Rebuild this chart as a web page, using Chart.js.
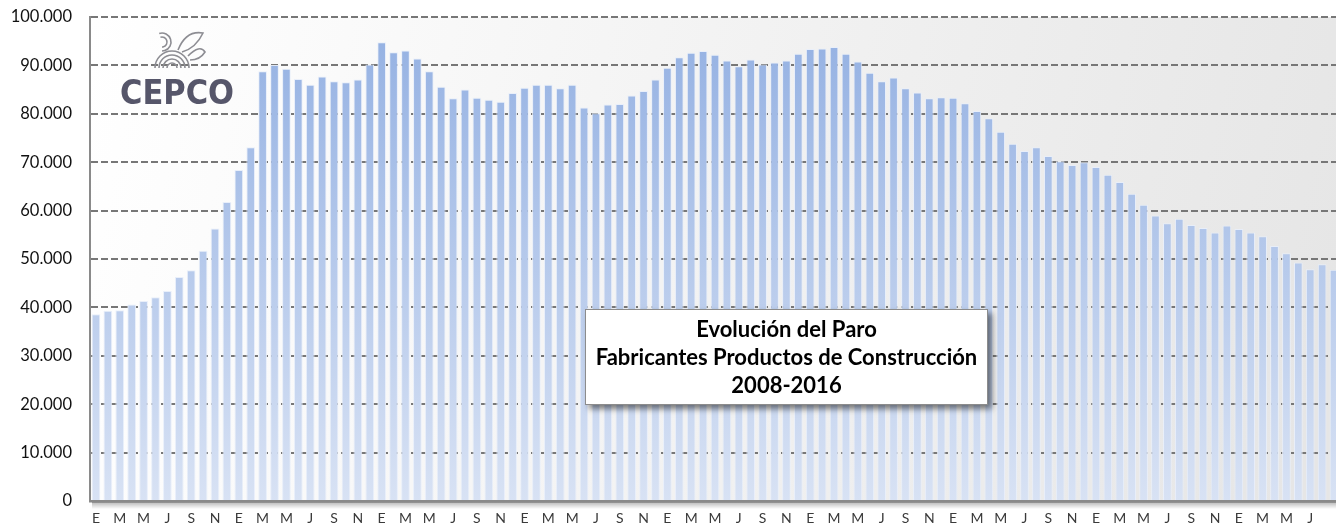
<!DOCTYPE html>
<html lang="es">
<head>
<meta charset="utf-8">
<title>Evolución del Paro - Fabricantes Productos de Construcción</title>
<script src="https://cdn.jsdelivr.net/npm/chart.js@4.4.1/dist/chart.umd.min.js"></script>
<style>
    html, body { margin: 0; padding: 0; background: #ffffff; overflow: hidden; }
    #marco { position: relative; width: 1346px; height: 541px; }
</style>
</head>
<body>
<div id="marco"><canvas id="chartParo"></canvas></div>
<script>
// Iniciales de los meses (E = enero ... D = diciembre)
const MESES = ['E', 'F', 'M', 'A', 'M', 'J', 'J', 'A', 'S', 'O', 'N', 'D'];

// Parados por mes, fabricantes de productos de construcción
const paro2008 = [38600, 39300, 39400, 40600, 41300, 42100, 43400, 46300, 47700, 51700, 56300, 61800];
const paro2009 = [68400, 73100, 88800, 90100, 89300, 87200, 86000, 87700, 86700, 86500, 87100, 90200];
const paro2010 = [94800, 92700, 93100, 91400, 88800, 85600, 83200, 85000, 83300, 82900, 82500, 84300];
const paro2011 = [85400, 86000, 86000, 85300, 86000, 81300, 80100, 81900, 82000, 83800, 84700, 87100];
const paro2012 = [89500, 91700, 92600, 93000, 92200, 91000, 89800, 91200, 90200, 90600, 91000, 92400];
const paro2013 = [93400, 93500, 93800, 92400, 90800, 88500, 86700, 87500, 85300, 84400, 83200, 83400];
const paro2014 = [83300, 82200, 80600, 79100, 76300, 73800, 72300, 73100, 71300, 70200, 69400, 70000];
const paro2015 = [69000, 67400, 65900, 63500, 61200, 59000, 57400, 58300, 57000, 56400, 55500, 56900];
const paro2016 = [56200, 55500, 54700, 52700, 51200, 49300, 47900, 48900, 47800];

const TITULO = ['Evolución del Paro', 'Fabricantes Productos de Construcción', '2008-2016'];
const LOGO = 'CEPCO';

const anios = [paro2008, paro2009, paro2010, paro2011, paro2012, paro2013, paro2014, paro2015, paro2016];
const valores = [].concat(...anios);
const etiquetas = [];
anios.forEach(serie => serie.forEach((_, m) => etiquetas.push(MESES[m])));

// 100000 -> "100.000"
const miles = v => String(v).replace(/\B(?=(\d{3})+(?!\d))/g, '.');

Chart.defaults.font.family = 'Lato';

const rellenoBarra = (context) => {
    const { ctx, chartArea } = context.chart;
    if (!chartArea) return '#a9c0e8';
    const g = ctx.createLinearGradient(0, chartArea.top, 0, chartArea.bottom);
    g.addColorStop(0, '#93b0e2');
    g.addColorStop(1, '#d8e2f4');
    return g;
};

// fondo degradado del área de trazado
const fondoPlugin = {
    id: 'fondo',
    beforeDraw(chart) {
        const { ctx, chartArea: a } = chart;
        const g = ctx.createLinearGradient(a.left, a.top, a.right, a.top + 250);
        g.addColorStop(0, '#ffffff');
        g.addColorStop(1, '#e6e6e6');
        ctx.save();
        ctx.fillStyle = g;
        ctx.fillRect(a.left, a.top, a.right - a.left, a.bottom - a.top);
        ctx.restore();
    }
};

// logo CEPCO arriba a la izquierda
const logoPlugin = {
    id: 'logo',
    beforeDatasetsDraw(chart) {
        const ctx = chart.ctx;
        ctx.save();
        ctx.strokeStyle = '#8d8d93';
        ctx.lineWidth = 1.6;
        // arcos del emblema
        [5, 9, 13, 17].forEach(r => {
            ctx.beginPath();
            ctx.arc(172, 68, r, Math.PI, 2 * Math.PI);
            ctx.stroke();
        });
        ctx.beginPath();
        ctx.arc(162, 42, 9, -0.6 * Math.PI, 0.5 * Math.PI);
        ctx.stroke();
        ctx.beginPath();
        ctx.arc(162, 42, 5, -0.6 * Math.PI, 0.5 * Math.PI);
        ctx.stroke();
        ctx.beginPath();
        ctx.moveTo(178, 50);
        ctx.quadraticCurveTo(186, 30, 203, 33);
        ctx.quadraticCurveTo(196, 48, 182, 52);
        ctx.stroke();
        ctx.beginPath();
        ctx.moveTo(188, 56);
        ctx.quadraticCurveTo(200, 44, 205, 52);
        ctx.quadraticCurveTo(200, 60, 190, 60);
        ctx.stroke();

        ctx.fillStyle = '#56566a';
        ctx.font = 'bold 34px "DejaVu Sans"';
        ctx.textAlign = 'left';
        ctx.textBaseline = 'alphabetic';
        ctx.fillText(LOGO, 120, 104, 114);
        ctx.restore();
    }
};

// sombra bajo el eje X y cuadro de título
const titulosPlugin = {
    id: 'titulos',
    afterDraw(chart) {
        const { ctx, chartArea: a } = chart;
        ctx.save();
        const s = ctx.createLinearGradient(0, a.bottom + 1, 0, a.bottom + 8);
        s.addColorStop(0, 'rgba(0,0,0,0.28)');
        s.addColorStop(1, 'rgba(0,0,0,0)');
        ctx.fillStyle = s;
        ctx.fillRect(a.left + 2, a.bottom + 1, a.right - a.left, 7);

        ctx.shadowColor = 'rgba(0,0,0,0.5)';
        ctx.shadowBlur = 6;
        ctx.shadowOffsetX = 4;
        ctx.shadowOffsetY = 4;
        ctx.fillStyle = '#ffffff';
        ctx.fillRect(585, 309, 403, 96);
        ctx.restore();

        ctx.save();
        ctx.strokeStyle = '#8c8c8c';
        ctx.lineWidth = 1;
        ctx.strokeRect(585.5, 309.5, 402, 95);
        ctx.fillStyle = '#000000';
        ctx.font = 'bold 22px Lato';
        ctx.textAlign = 'center';
        ctx.textBaseline = 'middle';
        TITULO.forEach((t, i) => ctx.fillText(t, 786.5, 330 + i * 28));
        ctx.restore();
    }
};

const ctxParo = document.getElementById('chartParo').getContext('2d');
new Chart(ctxParo, {
    type: 'bar',
    data: {
        labels: etiquetas,
        datasets: [{
            label: 'Parados',
            data: valores,
            backgroundColor: rellenoBarra,
            borderColor: 'rgba(232,238,250,0.95)',
            borderWidth: 1,
            barPercentage: 0.73,
            categoryPercentage: 1
        }]
    },
    options: {
        responsive: true,
        maintainAspectRatio: false,
        animation: false,
        layout: { padding: { top: 17, right: 6, left: 0, bottom: 0 } },
        plugins: {
            legend: { display: false },
            tooltip: { enabled: false }
        },
        scales: {
            x: {
                afterFit: (scale) => { scale.height = 40; },
                grid: { display: false, drawTicks: false },
                border: { color: '#8a8a8a', width: 2.5 },
                ticks: {
                    autoSkip: false,
                    maxRotation: 0,
                    padding: 9,
                    color: '#3a3a3a',
                    font: { size: 14 },
                    callback: (v, i) => (i % 2 === 0 && i < etiquetas.length - 1) ? etiquetas[i] : ''
                }
            },
            y: {
                min: 0,
                max: 100000,
                afterFit: (scale) => {
                    scale.width = 90;
                    scale.paddingTop = 0;
                    scale.paddingBottom = 0;
                },
                grid: {
                    color: (c) => c.tick.value === 0 ? 'rgba(0,0,0,0)' : '#777777',
                    lineWidth: 2,
                    drawTicks: false
                },
                border: { color: '#8a8a8a', width: 2, dash: [7, 3] },
                ticks: {
                    stepSize: 10000,
                    padding: 18,
                    color: '#111111',
                    font: { size: 16.5 },
                    callback: (v) => miles(v)
                }
            }
        }
    },
    plugins: [fondoPlugin, logoPlugin, titulosPlugin]
});
</script>
</body>
</html>
